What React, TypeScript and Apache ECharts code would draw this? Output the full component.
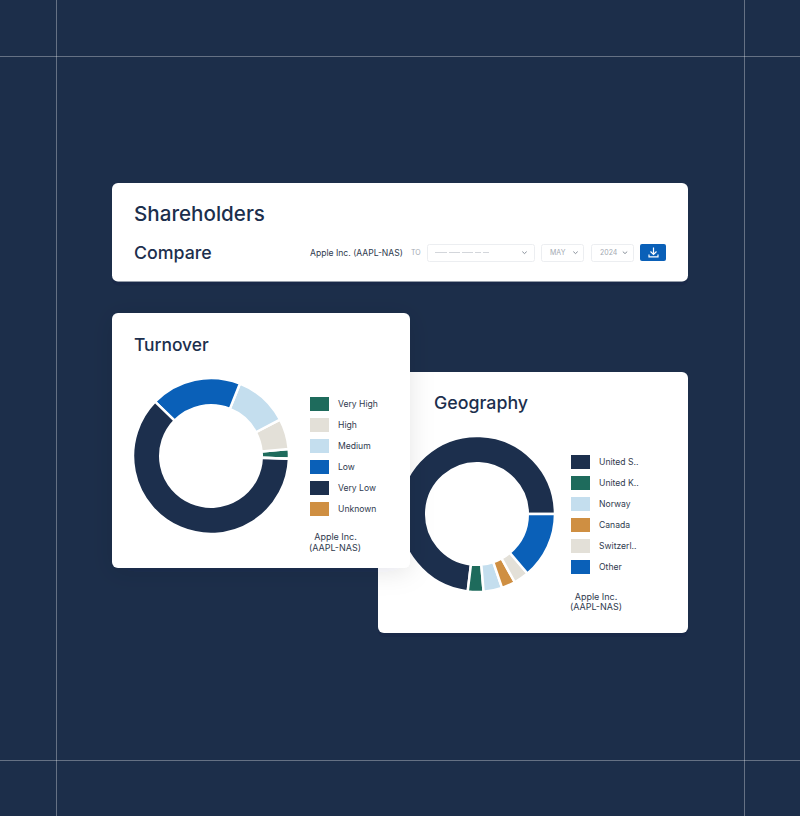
import React, { useEffect, useRef } from "react";
import * as echarts from "echarts";

const NAVY = "#1c2f4d";
const GREEN = "#1e6b5c";
const BEIGE = "#e3e0d8";
const LIGHT = "#c4deee";
const BLUE = "#0a60b8";
const ORANGE = "#cf8f42";

const turnoverNames = ["Very High", "High", "Medium", "Low", "Very Low", "Unknown"];
const turnoverValues = [2, 6.3, 11.2, 18.8, 61.7, 0];
const turnoverColors = [GREEN, BEIGE, LIGHT, BLUE, NAVY, ORANGE];

const geographyNames = ["United S..", "United K..", "Norway", "Canada", "Switzerl..", "Other"];
const geographyValues = [73.1, 3.25, 3.85, 2.85, 3.15, 13.8];
const geographyColors = [NAVY, GREEN, LIGHT, ORANGE, BEIGE, BLUE];

const FONT = "Inter";
const TITLE = NAVY;
const BODY = "#2f3a4e";
const GRID = "rgba(255,255,255,0.32)";

const toPie = (names: string[], values: number[], colors: string[]) =>
  names.map((name, i) => ({ name, value: values[i], itemStyle: { color: colors[i] } }));

const line = (x1: number, y1: number, x2: number, y2: number, stroke = GRID, z = 1, lineWidth = 1) => ({
  type: "line", z, silent: true,
  shape: { x1, y1, x2, y2 },
  style: { stroke, lineWidth, fill: "none" },
});

const text = (x: number, y: number, t: string, size: number, fill: string, z: number, extra: any = {}) => ({
  type: "text", x, y, z, silent: true,
  style: { text: t, fontFamily: FONT, fontSize: size, fill, textVerticalAlign: "middle", verticalAlign: "middle", ...extra },
});

const card = (x: number, y: number, width: number, height: number, z: number, shadow: number) => ({
  type: "rect", z, silent: true,
  shape: { x, y, width, height, r: 6 },
  style: { fill: "#ffffff", shadowBlur: shadow, shadowColor: "rgba(20,30,50,0.10)", shadowOffsetY: 4 },
});

const selectBox = (x: number, width: number) => ({
  type: "rect", z: 6, silent: true,
  shape: { x, y: 244.5, width, height: 17, r: 2 },
  style: { fill: "#ffffff", stroke: "#eceef1", lineWidth: 1 },
});

const chevron = (x: number) => ({
  type: "polyline", z: 6, silent: true,
  shape: { points: [[x - 2.2, 251.6], [x, 253.6], [x + 2.2, 251.6]] },
  style: { stroke: "#7c8490", lineWidth: 0.9, fill: "none" },
});

const pieSeries = (center: number[], data: any[], startAngle: number, z: number) => ({
  type: "pie",
  z,
  silent: true,
  center,
  radius: [50.75, 78],
  startAngle,
  clockwise: false,
  animation: false,
  label: { show: false },
  labelLine: { show: false },
  itemStyle: { borderColor: "#ffffff", borderWidth: 2.5 },
  data,
});

const legend = (left: number, top: number, names: string[]) => ({
  left, top, z: 7,
  orient: "vertical",
  icon: "rect",
  selectedMode: false,
  itemWidth: 19,
  itemHeight: 14,
  itemGap: 7,
  padding: 0,
  itemStyle: { borderWidth: 0 },
  textStyle: { fontFamily: FONT, fontSize: 8.6, lineHeight: 12, color: BODY, padding: [0, 0, 0, 4] },
  data: names,
});

export default function App() {
  const ref = useRef<HTMLDivElement>(null);
  useEffect(() => {
    document.body.style.margin = "0";
    const chart = echarts.init(ref.current!, null, { renderer: "svg" });
    chart.setOption({
      animation: false,
      backgroundColor: "#1c2e4a",
      legend: [legend(310, 397, turnoverNames), legend(571, 455, geographyNames)],
      series: [
        pieSeries([477, 514], toPie(geographyNames, geographyValues, geographyColors), 0, 2),
        pieSeries([211, 456], toPie(turnoverNames, turnoverValues, turnoverColors), -2, 4),
      ],
      graphic: [
        line(56.5, 0, 56.5, 816),
        line(744.5, 0, 744.5, 816),
        line(0, 56.5, 800, 56.5),
        line(0, 760.5, 800, 760.5),
        card(112, 183, 576, 98.5, 1, 0),
        card(378, 372, 310, 261, 1, 0),
        card(112, 313, 298, 255, 3, 24),
        text(134, 213.5, "Shareholders", 20.6, TITLE, 6, { fontWeight: 500 }),
        text(134, 252.5, "Compare", 17.8, TITLE, 6, { fontWeight: 500 }),
        text(134, 344, "Turnover", 17.4, TITLE, 6, { fontWeight: 500 }),
        text(434, 402.5, "Geography", 17.8, TITLE, 6, { fontWeight: 500 }),
        text(310, 252.5, "Apple Inc. (AAPL-NAS)", 8.6, BODY, 6),
        text(411, 252.5, "TO", 7, "#a3a9b2", 6),
        selectBox(427.5, 107),
        selectBox(541.5, 42),
        selectBox(591.5, 42),
        line(435, 252.5, 447, 252.5, "#d3d6db", 6),
        line(449, 252.5, 460, 252.5, "#d3d6db", 6),
        line(462, 252.5, 473, 252.5, "#d3d6db", 6),
        line(475, 252.5, 481, 252.5, "#d3d6db", 6),
        line(483, 252.5, 489, 252.5, "#d3d6db", 6),
        text(550, 252.5, "MAY", 7, "#a3a9b2", 6),
        text(600, 252.5, "2024", 7, "#a3a9b2", 6),
        chevron(524.5),
        chevron(575.5),
        chevron(625),
        { type: "rect", z: 6, silent: true, shape: { x: 640, y: 244, width: 26, height: 17, r: 2 }, style: { fill: BLUE } },
        line(653.5, 247.5, 653.5, 254, "#ffffff", 7, 1.2),
        { type: "polyline", z: 7, silent: true, shape: { points: [[650.5, 251.5], [653.5, 254.5], [656.5, 251.5]] }, style: { stroke: "#ffffff", lineWidth: 1.2, fill: "none" } },
        { type: "polyline", z: 7, silent: true, shape: { points: [[649, 254.5], [649, 256.8], [658, 256.8], [658, 254.5]] }, style: { stroke: "#ffffff", lineWidth: 1.2, fill: "none" } },
        text(335.5, 536.5, "Apple Inc.", 9, BODY, 6, { textAlign: "center", align: "center" }),
        text(335, 547.5, "(AAPL-NAS)", 9, BODY, 6, { textAlign: "center", align: "center" }),
        text(596, 596.5, "Apple Inc.", 9, BODY, 6, { textAlign: "center", align: "center" }),
        text(596, 606.5, "(AAPL-NAS)", 9, BODY, 6, { textAlign: "center", align: "center" }),
      ],
    });
    return () => chart.dispose();
  }, []);
  return <div ref={ref} style={{ position: "fixed", left: 0, top: 0, width: 800, height: 816 }} />;
}
